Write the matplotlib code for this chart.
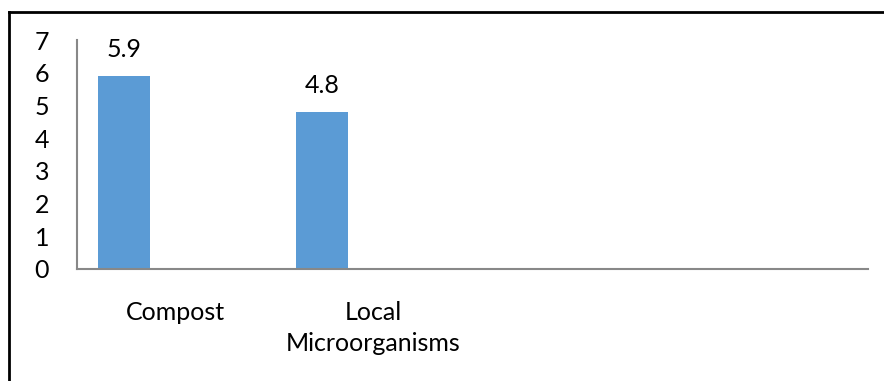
import matplotlib
matplotlib.use("Agg")
from matplotlib import pyplot as plt
from matplotlib.lines import Line2D
import numpy as np

categories = ["Compost", "Local\nMicroorganisms", "", ""]
values = [5.9, 4.8, None, None]
y_ticks = [0, 1, 2, 3, 4, 5, 6, 7]

plt.rcParams["font.family"] = ["Lato", "DejaVu Sans"]

fig = plt.figure(figsize=(8.84, 3.81), dpi=100)
ax = fig.add_axes([77 / 884, 1 - 269 / 381, (868 - 77) / 884, (269 - 40) / 381])

x = np.arange(len(categories))
w = 52 / 198
xs = [xi - w for xi, v in zip(x, values) if v is not None]
vs = [v for v in values if v is not None]
bars = ax.bar(xs, vs, width=w, color="#5B9BD5")
for b, v in zip(bars, vs):
    ax.text(b.get_x() + b.get_width() / 2, v + 0.45, f"{v}", ha="center", va="bottom",
            fontsize=18, color="black")

ax.set_xlim(-0.5, len(categories) - 0.5)
ax.set_ylim(0, 7)
ax.set_yticks(y_ticks)
ax.set_yticklabels([str(t) for t in y_ticks], fontsize=18)
ax.set_xticks(x)
ax.set_xticklabels(categories, fontsize=18, linespacing=1.4)
ax.tick_params(axis="y", length=0, pad=20)
ax.tick_params(axis="x", length=0, pad=23)
for s in ["top", "right"]:
    ax.spines[s].set_visible(False)
for s in ["left", "bottom"]:
    ax.spines[s].set_color("#888888")
    ax.spines[s].set_linewidth(1.5)

# outer frame
fig.add_artist(Line2D([9 / 884, 9 / 884], [0, 1 - 12 / 381], color="black", lw=2, transform=fig.transFigure))
fig.add_artist(Line2D([9 / 884, 1], [1 - 12 / 381, 1 - 12 / 381], color="black", lw=2, transform=fig.transFigure))

fig.savefig("out.png", dpi=100)
